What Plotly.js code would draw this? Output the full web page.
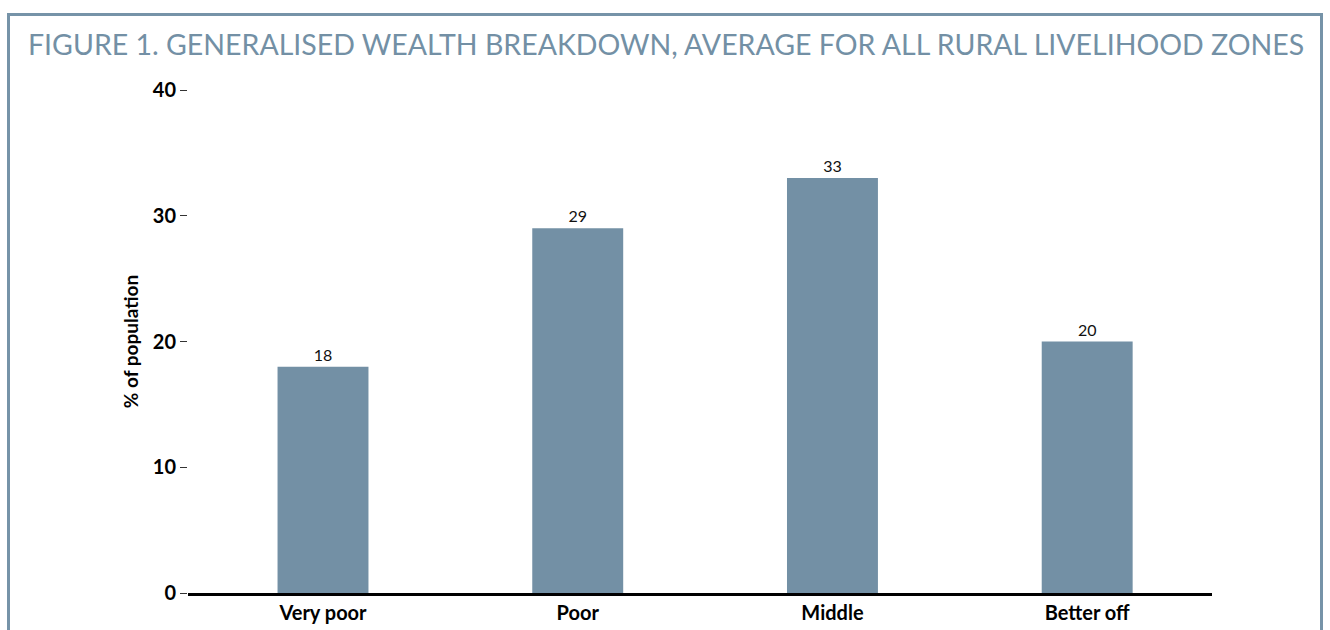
<!DOCTYPE html>
<html><head><meta charset="utf-8">
<script src="https://cdn.plot.ly/plotly-3.0.1.min.js"></script>
<style>
html,body{margin:0;padding:0;background:#fff;overflow:hidden;}
#frame{position:absolute;left:7px;top:13px;width:1316px;height:640px;border:3px solid #7693a8;box-sizing:border-box;pointer-events:none;z-index:5;}
#chart{position:absolute;left:0;top:0;width:1330px;height:630px;}
</style></head>
<body>
<div id="chart"></div>
<div id="frame"></div>
<script>
const categories = ["Very poor", "Poor", "Middle", "Better off"];
const values = [18, 29, 33, 20];
const yTicks = [0, 10, 20, 30, 40];
const titleText = "FIGURE 1. GENERALISED WEALTH BREAKDOWN, AVERAGE FOR ALL RURAL LIVELIHOOD ZONES";
const yTitle = "% of population";

const trace = {
  type: "bar",
  x: categories,
  y: values,
  text: values.map(String),
  textposition: "outside",
  cliponaxis: false,
  textfont: {family: "Lato, 'Open Sans', sans-serif", size: 16, color: "#111"},
  marker: {color: "#7390a5"},
  width: 0.357,
  hoverinfo: "none"
};

const layout = {
  width: 1330, height: 630,
  margin: {l: 188, r: 118, t: 90, b: 37},
  paper_bgcolor: "#fff", plot_bgcolor: "#fff",
  showlegend: false,
  title: {
    text: titleText,
    x: 0, xref: "paper", xanchor: "left",
    y: 1, yref: "container", yanchor: "top",
    font: {family: "Lato, 'Open Sans', sans-serif", size: 28.5, color: "#7390a5"},
    pad: {t: 35}
  },
  xaxis: {
    type: "category",
    range: [-0.53, 3.49],
    showline: true, linecolor: "#000", linewidth: 3,
    ticks: "", showgrid: false, zeroline: false,
    tickfont: {family: "Lato, 'Open Sans', sans-serif", size: 20, color: "#000", weight: "bold"},
    fixedrange: true
  },
  yaxis: {
    range: [0, 40],
    tickvals: yTicks,
    ticktext: yTicks.map(String),
    ticks: "outside", ticklen: 7, tickwidth: 1, tickcolor: "#333",
    showline: false, showgrid: false, zeroline: false,
    tickfont: {family: "Lato, 'Open Sans', sans-serif", size: 20, color: "#000", weight: "bold"},
    title: {text: yTitle, standoff: 9, font: {family: "Lato, 'Open Sans', sans-serif", size: 19, color: "#000", weight: "bold"}},
    fixedrange: true
  },
  bargap: 0.6
};

Plotly.newPlot("chart", [trace], layout, {displayModeBar: false, staticPlot: true}).then(() => {
  const t = document.querySelector(".gtitle");
  if (t) { t.setAttribute("x", 28); t.setAttribute("text-anchor", "start"); }
});
</script>
</body></html>
